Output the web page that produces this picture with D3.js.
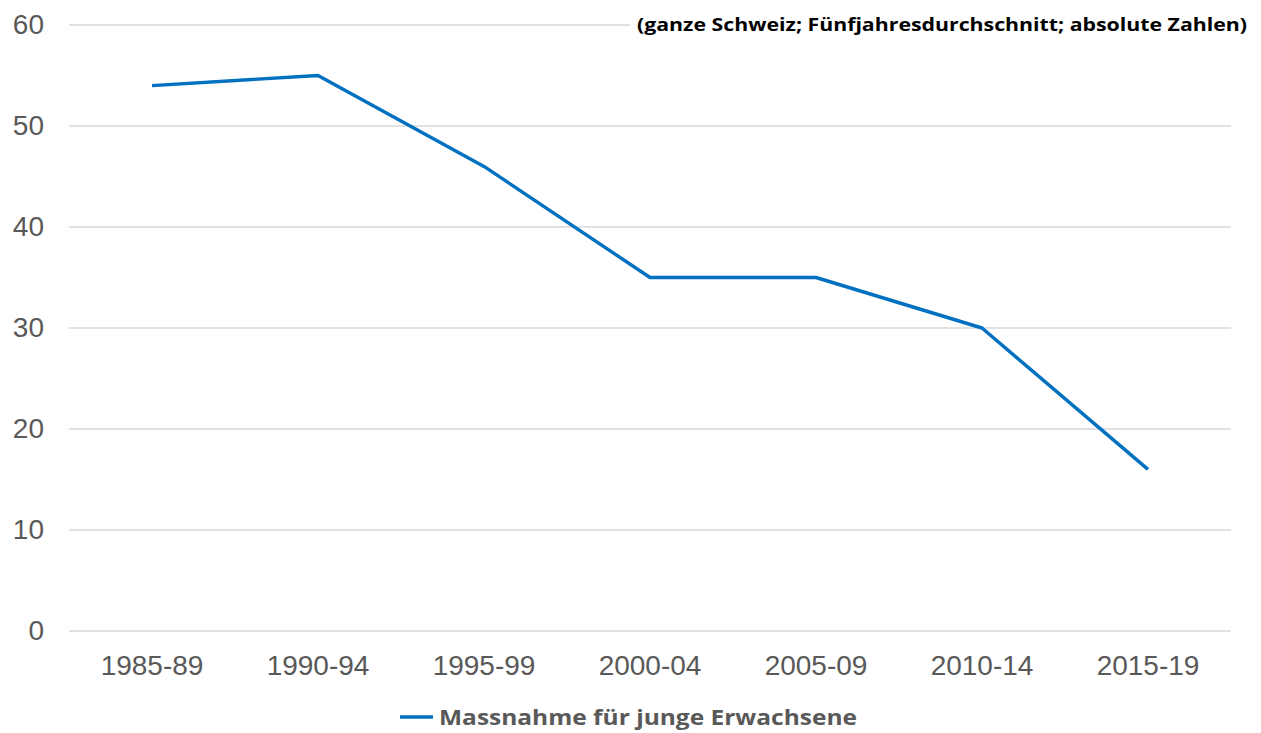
<!DOCTYPE html>
<html lang="de">
<head>
<meta charset="utf-8">
<title>Massnahme für junge Erwachsene</title>
<script src="https://cdn.jsdelivr.net/npm/d3@7"></script>
<style>
  body { margin: 0; background: #fff; }
  svg { display: block; }
</style>
</head>
<body>
<script>
var periods = ["1985-89", "1990-94", "1995-99", "2000-04", "2005-09", "2010-14", "2015-19"];
var values = [54, 55, 46, 35, 35, 30, 16];
var yTicks = [0, 10, 20, 30, 40, 50, 60];
var seriesName = "Massnahme für junge Erwachsene";
var subtitle = "(ganze Schweiz; Fünfjahresdurchschnitt; absolute Zahlen)";

var w = 1261, h = 733;
var plotLeft = 69, plotRight = 1231, plotTop = 25, plotBottom = 631;

var svg = d3.select("body").append("svg")
    .attr("width", w)
    .attr("height", h);

var x = d3.scaleBand().domain(periods).range([plotLeft, plotRight]);
var y = d3.scaleLinear().domain([0, 60]).range([plotBottom, plotTop]);

// gridlines
svg.append("g").selectAll("line")
    .data(yTicks)
    .enter().append("line")
    .attr("x1", plotLeft).attr("x2", plotRight)
    .attr("y1", function(d){ return y(d); })
    .attr("y2", function(d){ return y(d); })
    .attr("stroke", "#d9d9d9")
    .attr("stroke-width", 1.3);

// y axis labels
var yAxis = svg.append("g")
    .attr("transform", "translate(44,0)")
    .call(d3.axisLeft(y).tickValues(yTicks).tickSize(0).tickPadding(0));
yAxis.select(".domain").remove();
yAxis.selectAll("text")
    .attr("fill", "#595959")
    .style("font-family", "Arial, 'Liberation Sans', sans-serif")
    .style("font-size", "28px");

// x axis labels
var xAxis = svg.append("g")
    .attr("transform", "translate(0," + plotBottom + ")")
    .call(d3.axisBottom(x).tickSize(0).tickPadding(24));
xAxis.select(".domain").remove();
xAxis.selectAll("text")
    .attr("fill", "#595959")
    .style("font-family", "Arial, 'Liberation Sans', sans-serif")
    .style("font-size", "28px");

// the line
var line = d3.line()
    .x(function(d, i){ return x(periods[i]) + x.bandwidth() / 2; })
    .y(function(d){ return y(d); });

svg.append("path")
    .datum(values)
    .attr("d", line)
    .attr("fill", "none")
    .attr("stroke", "#0070c0")
    .attr("stroke-width", 3.4)
    .attr("stroke-linejoin", "round");

// subtitle, white box hides the top gridline behind it
svg.append("rect")
    .attr("x", 630).attr("y", 8)
    .attr("width", 625).attr("height", 30)
    .attr("fill", "#fff");
svg.append("text")
    .attr("x", 1247).attr("y", 31)
    .attr("text-anchor", "end")
    .attr("textLength", 610)
    .attr("lengthAdjust", "spacingAndGlyphs")
    .style("font-family", "'Open Sans', sans-serif")
    .style("font-weight", "bold")
    .style("font-size", "18px")
    .attr("fill", "#000")
    .text(subtitle);

// legend
svg.append("line")
    .attr("x1", 400).attr("x2", 433)
    .attr("y1", 717).attr("y2", 717)
    .attr("stroke", "#0070c0")
    .attr("stroke-width", 3.4);
svg.append("text")
    .attr("x", 439).attr("y", 725)
    .attr("textLength", 418)
    .attr("lengthAdjust", "spacingAndGlyphs")
    .style("font-family", "'Open Sans', sans-serif")
    .style("font-weight", "bold")
    .style("font-size", "22px")
    .attr("fill", "#595959")
    .text(seriesName);
</script>
</body>
</html>
